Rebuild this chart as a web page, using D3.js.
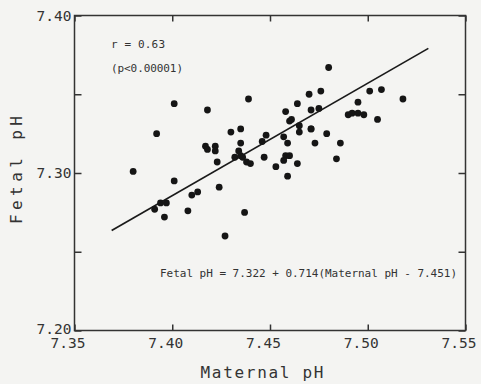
<!DOCTYPE html>
<html>
<head>
<meta charset="utf-8">
<script src="https://cdn.jsdelivr.net/npm/d3@7"></script>
<style>
  html, body { margin: 0; padding: 0; background: #f4f4f2; }
  svg { display: block; }
  text { font-family: "DejaVu Sans Mono", monospace; fill: #333; }
</style>
</head>
<body>
<div id="chart"></div>
<script>
// maternal / fetal pH pairs
const maternalPH = [
  7.380, 7.392, 7.391, 7.394, 7.397, 7.396, 7.401, 7.401, 7.408, 7.410,
  7.413, 7.417, 7.418, 7.418, 7.422, 7.422, 7.423, 7.424, 7.427, 7.430,
  7.435, 7.432, 7.435, 7.436, 7.435, 7.434, 7.437, 7.438, 7.440, 7.439,
  7.446, 7.448, 7.447, 7.453, 7.457, 7.458, 7.460, 7.461, 7.458, 7.460,
  7.457, 7.459, 7.459, 7.464, 7.464, 7.465, 7.465, 7.470, 7.471, 7.471,
  7.471, 7.473, 7.475, 7.476, 7.479, 7.480, 7.484, 7.486, 7.490, 7.492,
  7.495, 7.498, 7.495, 7.501, 7.505, 7.507, 7.518
];
const fetalPH = [
  7.301, 7.325, 7.277, 7.281, 7.281, 7.272, 7.295, 7.344, 7.276, 7.286,
  7.288, 7.317, 7.315, 7.340, 7.317, 7.314, 7.307, 7.291, 7.260, 7.326,
  7.328, 7.310, 7.311, 7.310, 7.319, 7.314, 7.275, 7.307, 7.306, 7.347,
  7.320, 7.324, 7.310, 7.304, 7.323, 7.339, 7.333, 7.334, 7.311, 7.311,
  7.308, 7.319, 7.298, 7.344, 7.306, 7.330, 7.326, 7.350, 7.328, 7.328,
  7.340, 7.319, 7.341, 7.352, 7.325, 7.367, 7.309, 7.319, 7.337, 7.338,
  7.338, 7.337, 7.345, 7.352, 7.334, 7.353, 7.347
];

// regression: Fetal pH = 7.322 + 0.714(Maternal pH - 7.451)
const fitIntercept = 7.322;
const fitSlope = 0.714;
const fitCentre = 7.451;
const fitRange = [7.369, 7.531];

const xTicks = [7.35, 7.40, 7.45, 7.50, 7.55];
const yTicks = [7.20, 7.25, 7.30, 7.35, 7.40];
const yLabelled = [7.20, 7.30, 7.40];

const width = 481, height = 384;
const plotL = 74.5, plotR = 465.5, plotT = 15.5, plotB = 330.5;

const svg = d3.select('#chart')
  .append('svg')
  .attr('width', width)
  .attr('height', height);

const x = d3.scaleLinear().domain([7.35, 7.55]).range([plotL, plotR]);
const y = d3.scaleLinear().domain([7.20, 7.40]).range([plotB, plotT]);

const fmt = d3.format('.2f');

// frame
svg.append('rect')
  .attr('x', plotL).attr('y', plotT)
  .attr('width', plotR - plotL).attr('height', plotB - plotT)
  .attr('fill', 'none').attr('stroke', '#333').attr('stroke-width', 1.5);

const styleAxis = g => {
  g.select('.domain').remove();
  g.selectAll('line').attr('stroke', '#333').attr('stroke-width', 1.5);
};

// bottom
svg.append('g')
  .attr('transform', `translate(0,${plotB})`)
  .call(d3.axisBottom(x).tickValues(xTicks).tickFormat(fmt).tickSize(-6).tickPadding(7))
  .call(styleAxis)
  .call(g => g.selectAll('text')
    .attr('dx', -7)
    .style('font-size', '14.5px')
    .style('font-family', '"DejaVu Sans Mono", monospace')
    .attr('fill', '#333'));

// top
svg.append('g')
  .attr('transform', `translate(0,${plotT})`)
  .call(d3.axisTop(x).tickValues(xTicks).tickFormat('').tickSize(-6))
  .call(styleAxis);

// left
svg.append('g')
  .attr('transform', `translate(${plotL},0)`)
  .call(d3.axisLeft(y).tickValues(yTicks)
    .tickFormat(d => yLabelled.some(v => Math.abs(v - d) < 1e-6) ? fmt(d) : '')
    .tickSize(-7).tickPadding(3))
  .call(styleAxis)
  .call(g => g.selectAll('text')
    .attr('dy', d => d === 7.20 ? '0.2em' : '0.32em')
    .style('font-size', '14.5px')
    .style('font-family', '"DejaVu Sans Mono", monospace')
    .attr('fill', '#333'));

// right
svg.append('g')
  .attr('transform', `translate(${plotR},0)`)
  .call(d3.axisRight(y).tickValues(yTicks).tickFormat('').tickSize(-7))
  .call(styleAxis);

// axis titles
svg.append('text')
  .attr('x', 262).attr('y', 378)
  .attr('text-anchor', 'middle')
  .attr('textLength', 123)
  .style('font-size', '16px')
  .text('Maternal pH');

svg.append('text')
  .attr('transform', 'translate(22,170) rotate(-90)')
  .attr('text-anchor', 'middle')
  .attr('textLength', 108)
  .style('font-size', '16px')
  .text('Fetal pH');

// regression line
const fit = v => fitIntercept + fitSlope * (v - fitCentre);
svg.append('line')
  .attr('x1', x(fitRange[0])).attr('y1', y(fit(fitRange[0])))
  .attr('x2', x(fitRange[1])).attr('y2', y(fit(fitRange[1])))
  .attr('stroke', '#1a1a1a').attr('stroke-width', 1.7);

// points
const pts = maternalPH.map((m, i) => ({ m, f: fetalPH[i] }));
svg.append('g')
  .selectAll('circle')
  .data(pts)
  .join('circle')
  .attr('cx', d => x(d.m))
  .attr('cy', d => y(d.f))
  .attr('r', 3.4)
  .attr('fill', '#151515');

// annotations
svg.append('text')
  .attr('x', 111).attr('y', 48)
  .attr('textLength', 54)
  .style('font-size', '11px')
  .text('r = 0.63');

svg.append('text')
  .attr('x', 111).attr('y', 72)
  .attr('textLength', 72)
  .style('font-size', '11px')
  .text('(p<0.00001)');

svg.append('text')
  .attr('x', 160).attr('y', 277)
  .attr('textLength', 297)
  .style('font-size', '11px')
  .text('Fetal pH = 7.322 + 0.714(Maternal pH - 7.451)');
</script>
</body>
</html>
